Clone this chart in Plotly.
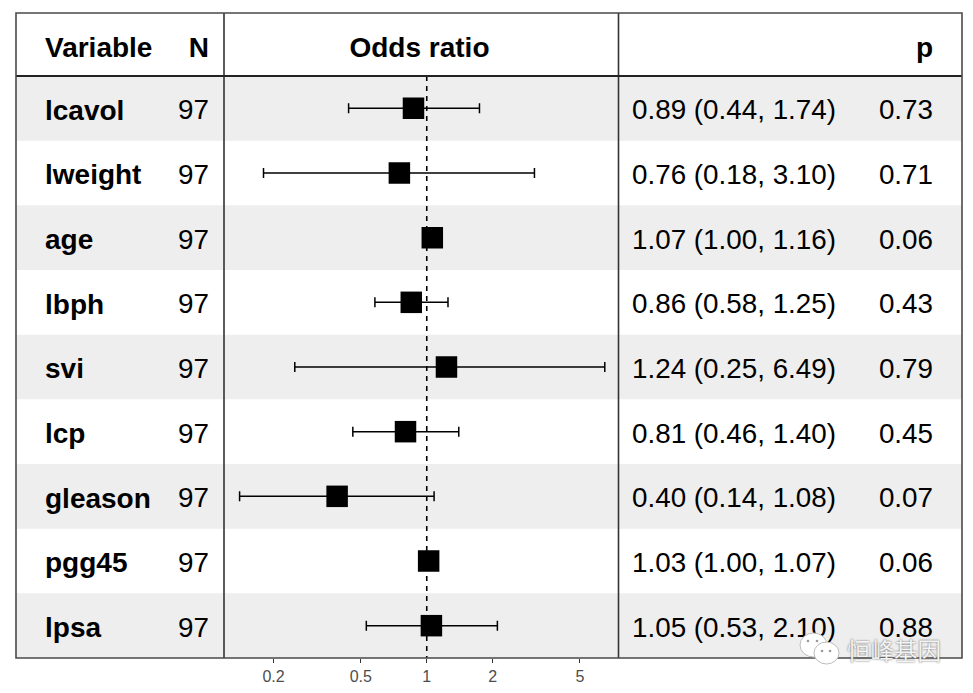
import plotly.graph_objects as go

variables = ["lcavol", "lweight", "age", "lbph", "svi", "lcp", "gleason", "pgg45", "lpsa"]
n_obs = [97, 97, 97, 97, 97, 97, 97, 97, 97]
odds = [0.89, 0.76, 1.07, 0.86, 1.24, 0.81, 0.40, 1.03, 1.05]
odds_marker = [0.87, 0.75, 1.06, 0.85, 1.23, 0.80, 0.39, 1.02, 1.05]  # where the squares sit in the picture
ci_low = [0.44, 0.18, 1.00, 0.58, 0.25, 0.46, 0.14, 1.00, 0.53]
ci_high = [1.74, 3.10, 1.16, 1.25, 6.49, 1.40, 1.08, 1.07, 2.10]
p_vals = ["0.73", "0.71", "0.06", "0.43", "0.79", "0.45", "0.07", "0.06", "0.88"]
tick_vals = [0.2, 0.5, 1, 2, 5]
tick_text = ["0.2", "0.5", "1", "2", "5"]

OFF = 8  # the page's own body margin
W, H = 973 - 2 * OFF, 693 - 2 * OFF
L, R, T, B = 16, 962, 13, 658
X1, X2 = 224, 618.5
HEAD_Y = 76
ROW = (B - HEAD_Y) / 9
FONT = "Liberation Sans, Arial, sans-serif"
FS = 27.8
FS_BOLD = 28
rows = list(range(len(variables)))
y_head = -0.5 - 26.5 / ROW
TXT = 0.065  # text sits slightly below row centre


def px(x):
    return (x - L) / (R - L)


def py(y):
    return 1 - (y - T) / (B - T)


shapes = []
for i in rows[::2]:
    shapes.append(dict(type="rect", xref="paper", yref="y", x0=0, x1=1, y0=i - 0.5, y1=i + 0.5,
                       fillcolor="#eeeeee", line_width=0, layer="below"))
shapes.append(dict(type="line", xref="x", yref="y", x0=1, x1=1, y0=-0.5, y1=8.5,
                   line=dict(color="black", width=1.6, dash="5px,5px"), layer="below"))

fig = go.Figure()
fig.add_trace(go.Scatter(
    x=odds_marker, y=rows, mode="markers", xaxis="x", yaxis="y",
    marker=dict(symbol="square", size=21.5, color="black"),
    error_x=dict(type="data", symmetric=False,
                 array=[h - o for h, o in zip(ci_high, odds_marker)],
                 arrayminus=[o - l for o, l in zip(odds_marker, ci_low)],
                 color="black", thickness=1.5, width=5),
    hoverinfo="skip"))


def col(x, y, text, pos, bold=False):
    fig.add_trace(go.Scatter(
        x=[x] * len(y), y=y, text=text, mode="text", xaxis="x2", yaxis="y",
        textposition=pos, cliponaxis=False, hoverinfo="skip",
        textfont=dict(family=FONT, size=FS_BOLD if bold else FS, color="black",
                      weight="bold" if bold else "normal")))


row_y = [r + TXT for r in rows]
col(45, row_y, variables, "middle right", True)
col(209, row_y, [str(v) for v in n_obs], "middle left")
col(632, row_y, [f"{o:.2f} ({l:.2f}, {h:.2f})" for o, l, h in zip(odds, ci_low, ci_high)], "middle right")
col(933, row_y, p_vals, "middle left")
col(45, [y_head], ["Variable"], "middle right", True)
col(209, [y_head], ["N"], "middle left", True)
col(419.5, [y_head], ["Odds ratio"], "middle center", True)
col(933, [y_head], ["p"], "middle left", True)

border = dict(color="#333333", width=1.6)
for x in (X1, X2):
    shapes.append(dict(type="line", xref="paper", yref="paper", x0=px(x), x1=px(x), y0=0, y1=1, line=border))
shapes.append(dict(type="line", xref="paper", yref="paper", x0=0, x1=1, y0=py(HEAD_Y), y1=py(HEAD_Y),
                   line=dict(color="#222222", width=1.8)))
shapes.append(dict(type="rect", xref="paper", yref="paper", x0=0, x1=1, y0=0, y1=1,
                   line=dict(color="#4a4a4a", width=1.6)))

# watermark bubbles
for cx, cy, rx, ry in ((813.5, 645, 13.5, 12), (826.5, 653, 12.5, 11)):
    shapes.append(dict(type="circle", xref="paper", yref="paper",
                       x0=px(cx - rx), x1=px(cx + rx), y0=py(cy - ry), y1=py(cy + ry),
                       fillcolor="white", line=dict(color="#bdbdbd", width=1)))
for cx, cy in ((808, 641), (817, 641), (822, 651), (830, 651)):
    shapes.append(dict(type="circle", xref="paper", yref="paper",
                       x0=px(cx - 1.3), x1=px(cx + 1.3), y0=py(cy - 1.3), y1=py(cy + 1.3),
                       fillcolor="#9a9a9a", line_width=0))

fig.update_layout(
    width=W, height=H, autosize=False, showlegend=False,
    margin=dict(l=L - OFF, r=W + OFF - R, t=T - OFF, b=H + OFF - B, pad=0, autoexpand=False),
    paper_bgcolor="white", plot_bgcolor="rgba(0,0,0,0)",
    shapes=shapes,
    xaxis=dict(type="log", domain=[px(X1), px(X2)], range=[-0.925, 0.8748],
               tickmode="array", tickvals=tick_vals, ticktext=tick_text,
               ticks="outside", ticklen=4, tickwidth=1.2, tickcolor="#333333",
               tickfont=dict(family=FONT, size=16, color="#4d4d4d"),
               showgrid=False, zeroline=False, showline=False, anchor="y"),
    xaxis2=dict(domain=[0, 1], range=[L, R], visible=False, anchor="y"),
    yaxis=dict(range=[8.5, 8.5 - (B - T) / ROW], visible=False, domain=[0, 1]),
    annotations=[dict(xref="paper", yref="paper", x=px(894), y=py(650), text="恒峰基因",
                      showarrow=False, xanchor="center", yanchor="middle",
                      font=dict(family="Noto Sans CJK SC", size=23.5, color="#f4f4f4",
                                shadow="0 0 2px #555555"))],
)
fig.write_html("out.html")
